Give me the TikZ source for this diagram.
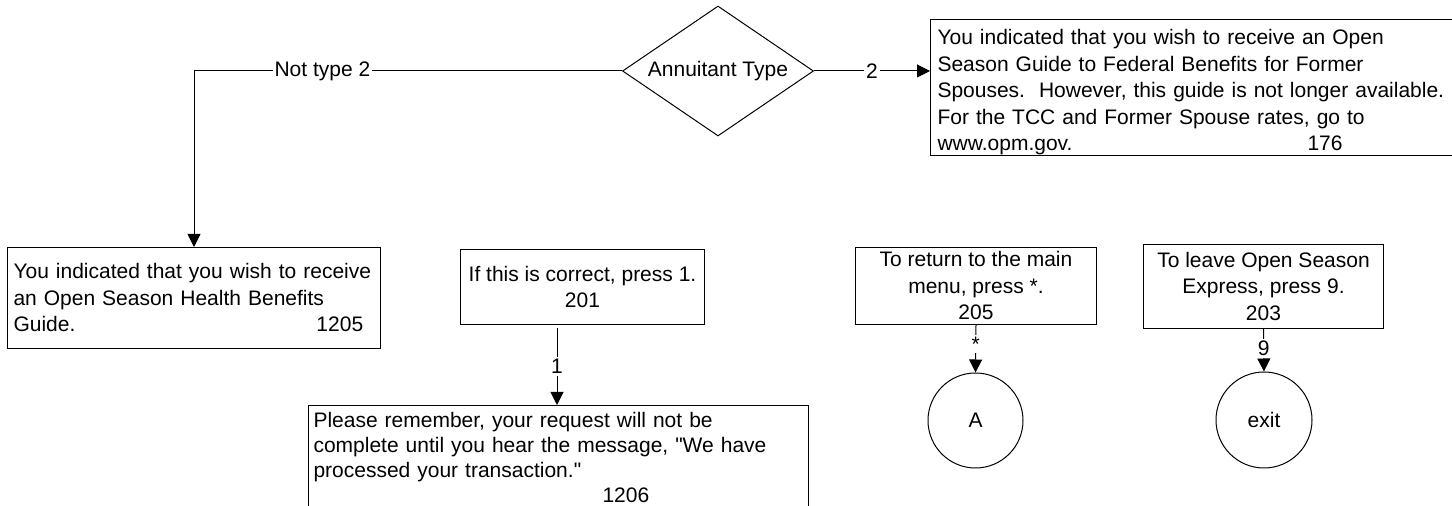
\documentclass[tikz,border=0pt]{standalone}
\usepackage{fontspec}
\setmainfont{Liberation Sans}
\newfontfamily\diagfont{Liberation Sans}
\usetikzlibrary{shapes.geometric,arrows.meta}

\begin{document}
\begin{tikzpicture}[x=0.5pt, y=-0.5pt,
        every node/.style={font=\diagfont\fontsize{10.5}{13.25}\selectfont},
        box/.style={draw=black, line width=0.5pt, rectangle, anchor=north west, inner xsep=3pt, inner ysep=0pt},
        decision/.style={diamond, draw=black, line width=0.5pt, aspect=1.48, minimum width=95.5pt, minimum height=65pt, inner sep=0pt},
        term/.style={circle, draw=black, line width=0.5pt, minimum size=47.5pt, inner sep=0pt},
        arr/.style={-{Triangle[length=6.5pt,width=6.5pt]}, line width=0.5pt},
        lbl/.style={fill=white, inner sep=1pt}]
        \useasboundingbox (0,0) rectangle (1452,506);
        \clip (0,0) rectangle (1452,506);
        % decision and its two answers
        \node[decision] (annuit) at (718,71) {Annuitant Type};
        \node[box, align=left, text width=258pt, inner xsep=3.5pt, minimum height=68pt, text height=12.5pt] (g176) at (930,19)
            {You indicated that you wish to receive an Open\\Season Guide to Federal Benefits for Former\\Spouses.\ \ However, this guide is not longer available.\\For the TCC and Former Spouse rates, go to\\\makebox[185pt][l]{www.opm.gov.}176};
        \node[box, align=left, text width=180.5pt, minimum height=50.5pt] (g1205) at (7,247)
            {You indicated that you wish to receive\\an Open Season Health Benefits\\\makebox[151.5pt][l]{Guide.}1205};
        % prompts
        \node[box, align=left, minimum width=122pt, minimum height=37.5pt, align=center] (g201) at (460,249) {If this is correct, press 1.\\201};
        \node[box, align=left, text width=245pt, inner xsep=2.5pt, minimum height=52pt, font=\diagfont\fontsize{10.5}{12.5}\selectfont] (g1206) at (308,405)
            {Please remember, your request will not be\\complete until you hear the message, "We have\\processed your transaction."\\\hspace*{144.5pt}1206};
        \node[box, align=center, minimum width=120.5pt, minimum height=38.5pt] (g205) at (855,247) {To return to the main\\menu, press *.\\205};
        \node[box, align=center, minimum width=120pt, minimum height=42pt] (g203) at (1143,244) {To leave Open Season\\Express, press 9.\\203};
        \node[term] (ca) at (975.5,420.5) {A};
        \node[term, minimum size=48pt] (cexit) at (1264,420) {exit};
        % connectors
        \draw[arr] (annuit.west) -- node[lbl, pos=.7] {Not type 2} (annuit.west -| g1205.north) -- (g1205.north);
        \draw[arr] (annuit.east) -- node[lbl] {2} (annuit.east -| g176.west);
        \coordinate (c201) at (557,328);
        \draw[arr] (c201) -- node[lbl] {1} (c201 |- g1206.north);
        \draw[arr] (g205.south) -- node[lbl, pos=.4] {*} (ca.north);
        \draw[arr] (g203.south) -- node[lbl, pos=.45] {9} (cexit.north);
\end{tikzpicture}
\end{document}
